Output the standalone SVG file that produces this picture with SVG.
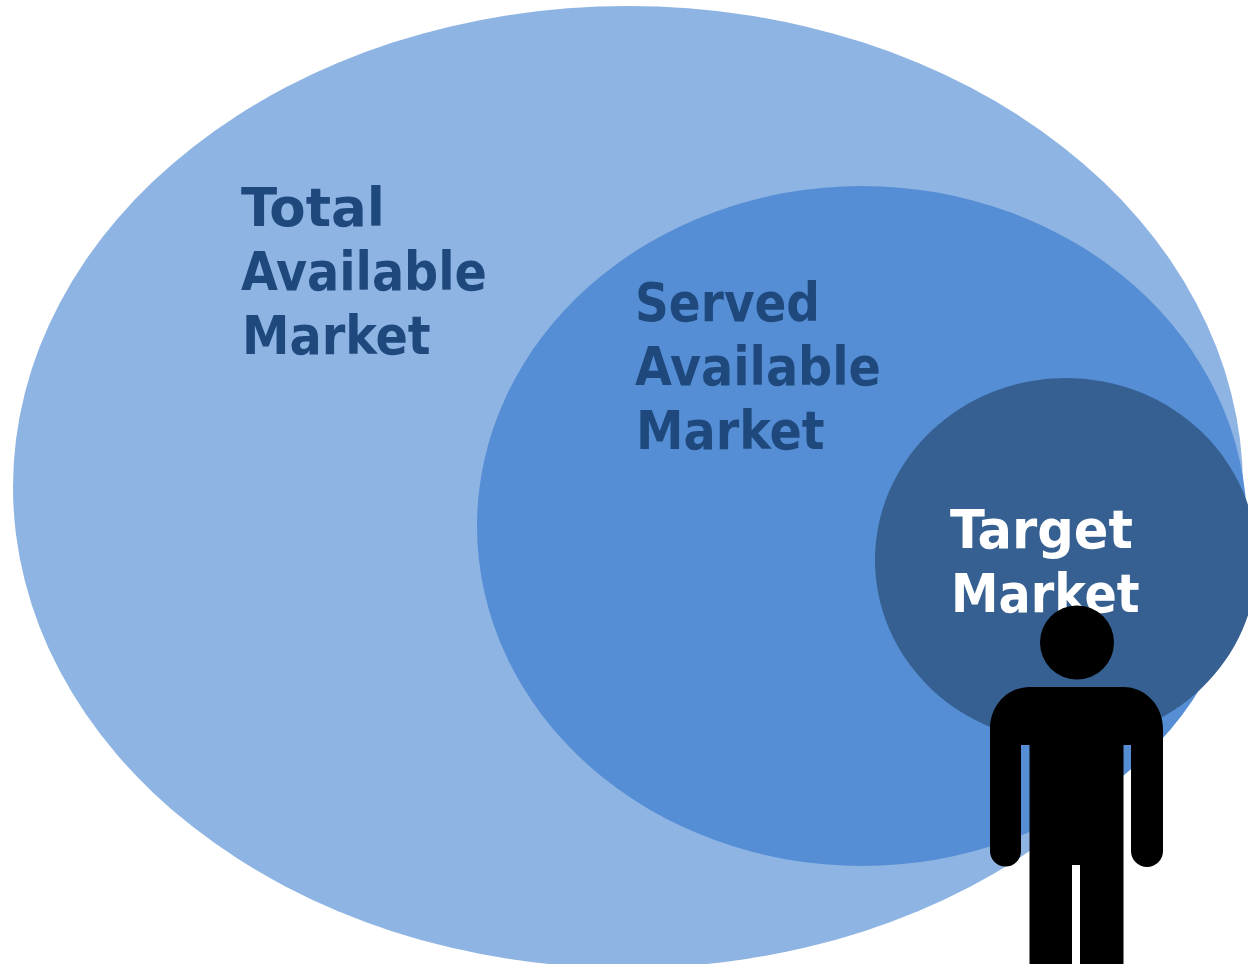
<svg xmlns="http://www.w3.org/2000/svg" width="1248" height="964" viewBox="0 0 1248 964">
<style>
.t{font-family:"DejaVu Sans","Liberation Sans",sans-serif;font-stretch:condensed;font-weight:700;font-size:53px}
.d{fill:#1f497d}.w{fill:#fff}
</style>
<rect width="1248" height="964" fill="#fff"/>
<g id="total-available-market">
<ellipse cx="628" cy="487" rx="615" ry="481" fill="#8eb4e3"/>
<text class="t d" x="241" y="225.500" textLength="144" lengthAdjust="spacingAndGlyphs">Total</text>
<text class="t d" x="241" y="289.500">Available</text>
<text class="t d" x="242" y="353.500">Market</text>
</g>
<g id="served-available-market">
<ellipse cx="862" cy="526" rx="385" ry="340" fill="#558ed5"/>
<text class="t d" x="635" y="320.500" textLength="185" lengthAdjust="spacingAndGlyphs">Served</text>
<text class="t d" x="635" y="384.500">Available</text>
<text class="t d" x="636" y="448.500">Market</text>
</g>
<g id="target-market">
<ellipse cx="1066" cy="560" rx="191" ry="182" fill="#376092"/>
<text class="t w" x="950" y="547.500" textLength="183" lengthAdjust="spacingAndGlyphs">Target</text>
<text class="t w" x="951" y="611.500">Market</text>
</g>
<g id="person" fill="#000">
<circle cx="1077" cy="642.500" r="37"/>
<path d="M1030 687H1123C1146 687 1163 706 1163 729V851A16 16 0 0 1 1131 851V745H1123.500V964H1080V865H1072V964H1029.500V745H1021V851A15.500 15.500 0 0 1 990 851V729C990 706 1007 687 1030 687Z"/>
</g>
<g id="connectors"/>
</svg>
